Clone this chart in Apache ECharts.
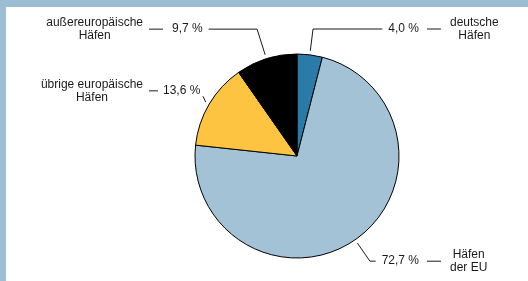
<!DOCTYPE html>
<html>
<head>
<meta charset="utf-8">
<script src="https://cdn.jsdelivr.net/npm/echarts@6/dist/echarts.min.js"></script>
<style>
html, body { margin: 0; padding: 0; background: #fff; }
#hafen_echarts { width: 528px; height: 281px; }
</style>
</head>
<body>
<div id="hafen_echarts"></div>
<script>
// Anteile der Häfen (im Uhrzeigersinn ab 12 Uhr)
var categories = ['deutsche\nHäfen', 'Häfen\nder EU', 'übrige europäische\nHäfen', 'außereuropäische\nHäfen'];
var shares = [4.0, 72.7, 13.6, 9.7];

var sliceColors = ['#2a7ba7', '#a4c2d6', '#fcc440', '#000000'];
// radiale Länge der Führungslinien je Segment
var leaderLen = [22, 22, 22, 27];

var cx = 297, cy = 156, r = 102;
var lineGap = 6;

var total = shares.reduce(function (a, b) { return a + b; }, 0);
var onLeft = [];
var acc = 0;
shares.forEach(function (v) {
	onLeft.push((acc + v / 2) / total > 0.5);
	acc += v;
});

function fmtPct(v) {
	return v.toFixed(1).replace('.', ',') + ' %';
}

var textStyle = { fontFamily: '"Liberation Sans", Arial, sans-serif', fontSize: 12, color: '#1a1a1a' };

var nameData = categories.map(function (c, i) {
	return {
		name: c,
		value: shares[i],
		itemStyle: { color: sliceColors[i] },
		labelLine: { show: false, length: leaderLen[i] + 4, length2: 0 }
	};
});

var pctData = categories.map(function (c, i) {
	return {
		name: c,
		value: shares[i],
		labelLine: { length: leaderLen[i], length2: 0 }
	};
});

var myChart = echarts.init(document.getElementById('hafen_echarts'));

var option = {
	backgroundColor: '#fff',
	animation: false,
	graphic: [
		{ type: 'rect', z: 100, shape: { x: 0, y: 0, width: 528, height: 7 }, style: { fill: '#9bbed4' } },
		{ type: 'rect', z: 100, shape: { x: 0, y: 0, width: 6, height: 281 }, style: { fill: '#9bbed4' } }
	],
	series: [{
		type: 'pie',
		center: [cx, cy],
		radius: r,
		startAngle: 90,
		clockwise: true,
		avoidLabelOverlap: false,
		silent: true,
		itemStyle: { borderColor: '#000', borderWidth: 1 },
		label: {
			show: true,
			position: 'outside',
			formatter: function (p) {
				return p.name.split('\n').map(function (s) { return '{n|' + s + '}'; }).join('\n');
			},
			rich: {
				n: Object.assign({ align: 'center', lineHeight: 13 }, textStyle)
			}
		},
		labelLayout: function (p) {
			var left = onLeft[p.dataIndex];
			return { x: left ? 143 : 450, align: left ? 'right' : 'left' };
		},
		data: nameData
	}, {
		type: 'pie',
		center: [cx, cy],
		radius: r + 4,
		startAngle: 90,
		clockwise: true,
		avoidLabelOverlap: false,
		silent: true,
		itemStyle: { color: 'rgba(0,0,0,0)', borderWidth: 0 },
		label: {
			show: true,
			position: 'outside',
			formatter: function (p) {
				var i = p.dataIndex;
				if (!onLeft[i]) return '{p|' + fmtPct(p.value) + '}{g|}{d|}';
				if (i === 2) return '{ds|}{gs|}{p|' + fmtPct(p.value) + '}';
				return '{d|}{gl|}{p|' + fmtPct(p.value) + '}';
			},
			rich: {
				p: Object.assign({ lineHeight: 14 }, textStyle),
				g: { width: 8, height: 1 },
				gl: { width: 9, height: 1 },
				gs: { width: 5, height: 1 },
				d: { width: 14, height: 1, backgroundColor: '#1a1a1a' },
				ds: { width: 9, height: 1, backgroundColor: '#1a1a1a' }
			}
		},
		labelLine: {
			show: true,
			lineStyle: { color: '#1a1a1a', width: 1 }
		},
		labelLayout: function (p) {
			var left = onLeft[p.dataIndex];
			var x = left ? 149 : 441;
			var w = p.labelRect.width;
			var pts = p.labelLinePoints;
			var anchor = pts[0], elbow = pts[1];
			var y = elbow[1];
			// Textkante, an der die Linie endet
			var edgeX = left ? x + w : x - w;
			var sgn = left ? 1 : -1;
			var end = [edgeX + sgn * lineGap, y];
			var mid = [elbow[0], y];
			if ((mid[0] - end[0]) * sgn < 0) {
				// Knick läge im Text: direkte kurze Linie Richtung Text
				var dx = anchor[0] - edgeX, dy = anchor[1] - y;
				var l = Math.sqrt(dx * dx + dy * dy);
				end = [edgeX + dx / l * lineGap, y + dy / l * lineGap];
				mid = end;
			}
			return {
				x: x,
				y: y,
				align: left ? 'left' : 'right',
				verticalAlign: 'middle',
				labelLinePoints: [anchor, mid, end]
			};
		},
		data: pctData
	}]
};

myChart.setOption(option, true);
</script>
</body>
</html>
